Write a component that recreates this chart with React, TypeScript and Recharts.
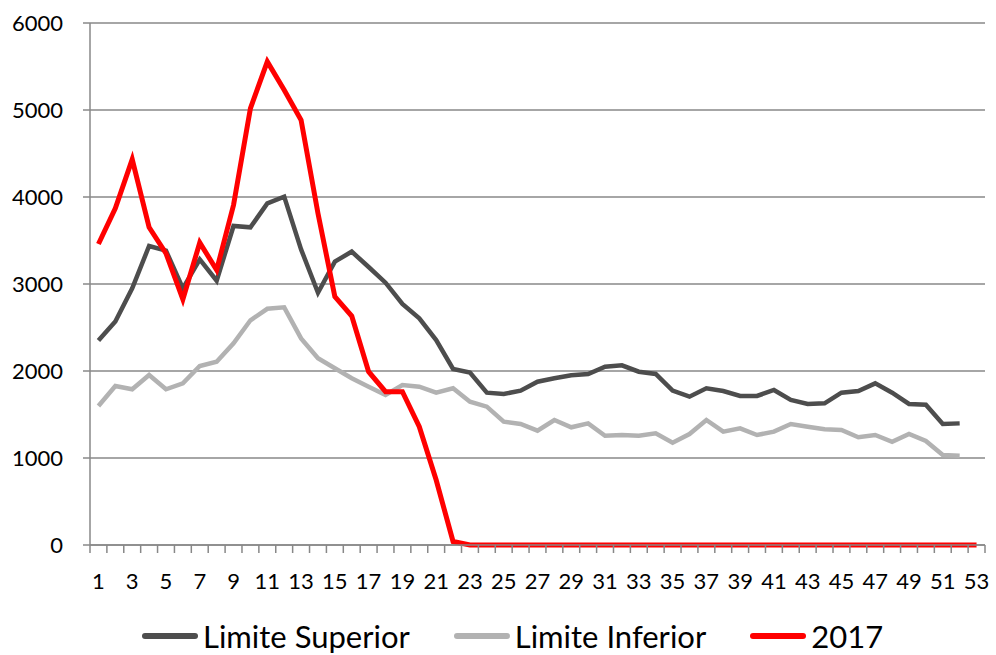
import React from 'react';
import { LineChart, Line, XAxis, YAxis, CartesianGrid, Legend } from 'recharts';

const weeks = [
  1, 2, 3, 4, 5, 6, 7, 8, 9, 10, 11, 12, 13, 14, 15, 16, 17, 18, 19, 20, 21, 22, 23, 24, 25, 26, 27,
  28, 29, 30, 31, 32, 33, 34, 35, 36, 37, 38, 39, 40, 41, 42, 43, 44, 45, 46, 47, 48, 49, 50, 51, 52, 53,
];

const limiteSuperior = [
  2350, 2570, 2950, 3437, 3383, 2950, 3283, 3038, 3667, 3651, 3927, 4004, 3398, 2900, 3257, 3372, 3195,
  3015, 2770, 2605, 2356, 2023, 1981, 1751, 1736, 1774, 1877, 1916, 1950, 1966, 2050, 2065, 1992, 1966,
  1774, 1705, 1801, 1770, 1713, 1713, 1782, 1667, 1621, 1628, 1751, 1770, 1858, 1751, 1621, 1613, 1391,
  1398, null,
];

const limiteInferior = [
  1598, 1828, 1790, 1954, 1790, 1858, 2057, 2107, 2318, 2583, 2715, 2732, 2375, 2146, 2031, 1916, 1820,
  1724, 1839, 1820, 1751, 1801, 1647, 1590, 1417, 1391, 1314, 1437, 1353, 1398, 1256, 1264, 1256, 1284,
  1176, 1276, 1437, 1303, 1341, 1264, 1303, 1391, 1360, 1330, 1322, 1238, 1264, 1187, 1276, 1195, 1034,
  1027, null,
];

const ano2017 = [
  3460, 3870, 4433, 3651, 3352, 2824, 3475, 3161, 3908, 5019, 5556, 5230, 4885, 3812, 2854, 2632, 1992,
  1762, 1762, 1360, 747, 40, 0, 0, 0, 0, 0, 0, 0, 0, 0, 0, 0, 0, 0, 0, 0, 0, 0, 0, 0, 0, 0, 0, 0, 0, 0,
  0, 0, 0, 0, 0, 0,
];

const seriesNames = ['Limite Superior', 'Limite Inferior', '2017'];

const yTicks = [0, 1000, 2000, 3000, 4000, 5000, 6000];

const data = weeks.map((w, i) => ({
  week: w,
  sup: limiteSuperior[i],
  inf: limiteInferior[i],
  y2017: ano2017[i],
}));

const W = 996;
const H = 655;
const LEFT = 90;
const RIGHT = 11;
const STEP = (W - LEFT - RIGHT) / weeks.length;
const FONT = 'Lato, "Open Sans", sans-serif';
const AXIS_COLOR = '#888888';

const WeekTick = (props: any) => {
  const { x, y, payload, index } = props;
  const half = STEP / 2;
  const last = index === weeks.length - 1;
  return (
    <g>
      <line x1={x - half} x2={x - half} y1={y} y2={y + 8} stroke={AXIS_COLOR} strokeWidth={1.5} />
      {last && <line x1={x + half} x2={x + half} y1={y} y2={y + 8} stroke={AXIS_COLOR} strokeWidth={1.5} />}
      {payload.value % 2 === 1 && (
        <text x={x} y={y + 44} textAnchor="middle" fontSize={22} fontFamily={FONT} fill="#000">
          {payload.value}
        </text>
      )}
    </g>
  );
};

const LegendContent = (props: any) => {
  const items = [...(props.payload || [])].sort(
    (a: any, b: any) => seriesNames.indexOf(a.value) - seriesNames.indexOf(b.value)
  );
  return (
    <div style={{ display: 'flex', height: 40, alignItems: 'center', paddingLeft: 142, fontFamily: FONT }}>
      {items.map((p: any) => (
        <div
          key={p.value}
          style={{ display: 'flex', alignItems: 'center', marginRight: 44, transform: 'translateY(1px)' }}
        >
          <div style={{ width: 56, height: 6, borderRadius: 3, background: p.color, marginRight: 5 }} />
          <span style={{ fontSize: 31, color: '#000', lineHeight: '32px' }}>{p.value}</span>
        </div>
      ))}
    </div>
  );
};

export default function App() {
  return (
    <div style={{ position: 'absolute', left: 0, top: 0, width: W, height: H, background: '#fff' }}>
      <LineChart width={W} height={H} data={data} margin={{ top: 23, right: RIGHT, left: 0, bottom: 0 }}>
        <CartesianGrid vertical={false} stroke={AXIS_COLOR} strokeWidth={1.5} />
        <XAxis
          dataKey="week"
          interval={0}
          tick={<WeekTick />}
          tickLine={false}
          tickSize={0}
          tickMargin={0}
          axisLine={{ stroke: AXIS_COLOR, strokeWidth: 1.5 }}
          padding={{ left: STEP / 2, right: STEP / 2 }}
          height={70}
        />
        <YAxis
          domain={[0, 6000]}
          ticks={yTicks}
          width={LEFT}
          tickSize={7}
          tickMargin={20}
          tick={{ fontSize: 22, fontFamily: FONT, fill: '#000' }}
          tickLine={{ stroke: AXIS_COLOR, strokeWidth: 1.5 }}
          axisLine={{ stroke: AXIS_COLOR, strokeWidth: 1.5 }}
        />
        <Legend verticalAlign="bottom" content={<LegendContent />} />
        <Line
          dataKey="sup"
          name="Limite Superior"
          stroke="#4d4d4d"
          strokeWidth={4.5}
          dot={false}
          isAnimationActive={false}
        />
        <Line
          dataKey="inf"
          name="Limite Inferior"
          stroke="#b2b2b2"
          strokeWidth={4.5}
          dot={false}
          isAnimationActive={false}
        />
        <Line
          dataKey="y2017"
          name="2017"
          stroke="#ff0000"
          strokeWidth={5}
          dot={false}
          isAnimationActive={false}
        />
      </LineChart>
    </div>
  );
}
